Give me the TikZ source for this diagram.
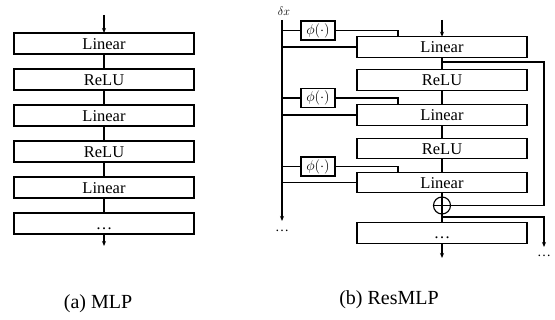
\documentclass[tikz,border=0pt]{standalone}
\usepackage{fontspec}
\setmainfont{Liberation Serif}
\usetikzlibrary{arrows.meta,calc}

\begin{document}
\begin{tikzpicture}[x=1pt,y=-1pt,line width=1.15pt,
  layer/.style={draw,inner sep=0pt,outer sep=0pt,minimum height=21pt,
    text height=12pt,text depth=0pt,font=\fontsize{16.5}{16.5}\selectfont},
  mlpbox/.style={layer,minimum width=180pt},
  resbox/.style={layer,minimum width=170pt,minimum height=20.5pt},
  phibox/.style={draw,inner sep=0pt,outer sep=0pt,minimum width=34pt,
    minimum height=19pt,font=\fontsize{14}{14}\selectfont},
  sumnode/.style={draw,circle,inner sep=0pt,outer sep=0pt,minimum size=17pt,
    path picture={\draw (path picture bounding box.north) -- (path picture bounding box.south)
      (path picture bounding box.west) -- (path picture bounding box.east);}},
  arr/.style={-{Stealth[length=5pt,width=4pt]}},
  caption/.style={font=\fontsize{20}{20}\selectfont},
  dotlabel/.style={font=\fontsize{14}{14}\selectfont,inner sep=0pt}
]
\useasboundingbox (0,0) rectangle (555,320);

% ---- (a) plain MLP ----
\node[mlpbox] (a1) at (104,43.5)  {Linear};
\node[mlpbox] (a2) at (104,79.5)  {ReLU};
\node[mlpbox] (a3) at (104,115.5) {Linear};
\node[mlpbox] (a4) at (104,151.5) {ReLU};
\node[mlpbox] (a5) at (104,187.5) {Linear};
\node[mlpbox] (a6) at (104,223.5) {\dots};
\coordinate (ain)  at (104,15);
\coordinate (aout) at (104,246);
\draw[arr] (ain) -- (a1);
\draw (a1) -- (a2);
\draw (a2) -- (a3);
\draw (a3) -- (a4);
\draw (a4) -- (a5);
\draw (a5) -- (a6);
\draw[arr] (a6) -- (aout);
\node[caption] (capa) at (98,304) {(a) MLP};

% ---- (b) residual MLP ----
\node[resbox] (b1) at (442,47)    {Linear};
\node[resbox] (b2) at (442,80)    {ReLU};
\node[resbox] (b3) at (442,115)   {Linear};
\node[resbox] (b4) at (442,148.5) {ReLU};
\node[resbox] (b5) at (442,182.5) {Linear};
\node[resbox] (b6) at (442,233)   {\dots};
\node[sumnode] (sum) at (442,205.5) {};

\node[phibox] (p1) at (318,30.5)  {$\phi(\cdot)$};
\node[phibox] (p2) at (318,98)    {$\phi(\cdot)$};
\node[phibox] (p3) at (318,166.5) {$\phi(\cdot)$};

% shared input line
\coordinate (dx)    at (282,20);
\coordinate (dxend) at (282,221);
\node[font=\fontsize{13}{13}\selectfont] (dxlabel) at (284,11) {$\delta x$};
\draw[arr] (dx) -- (dxend);
\node[dotlabel] (dxdots) at (282,231) {\dots};

% taps into each Linear layer
\foreach \p/\l in {p1/b1,p2/b3,p3/b5}{
  \draw (\p.west -| dx) -- (\p.west);
  \draw (\p.east) -| ($(\l.north west)+(41,0)$);
  \draw (\l.west -| dx) -- (\l.west);
}

% main chain
\coordinate (bin)  at (442,20);
\coordinate (bout) at (442,258);
\draw[arr] (bin) -- (b1);
\draw (b1) -- (b2);
\draw (b2) -- (b3);
\draw (b3) -- (b4);
\draw (b4) -- (b5);
\draw (b5) -- (sum);
\draw (sum) -- (b6);
\draw[arr] (b6) -- (bout);

% skip connection into the sum
\coordinate (s1) at (442,62);
\coordinate (s1r) at (544,62);
\draw (s1) -- (s1r) |- (sum.east);

% skip connection leaving the block
\coordinate (s2)  at (442,217);
\coordinate (s2r) at (544,217);
\coordinate (s2e) at (544,247);
\draw[arr] (s2) -- (s2r) -- (s2e);
\node[dotlabel] (skdots) at (544,256) {\dots};

\node[caption] (capb) at (389,300) {(b) ResMLP};
\end{tikzpicture}
\end{document}
